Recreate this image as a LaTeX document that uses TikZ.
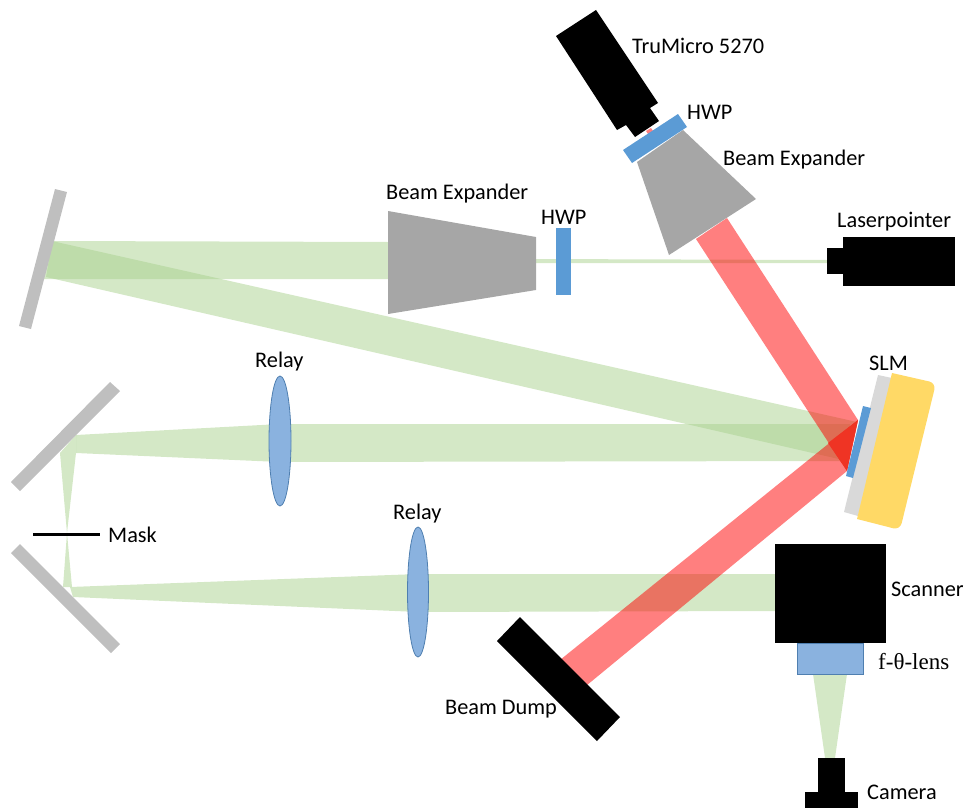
\documentclass[tikz,border=0pt]{standalone}
\usepackage{fontspec}
\setmainfont{Carlito}
\newfontfamily\lensfont{Liberation Serif}
\definecolor{beamgreen}{HTML}{A9D18E}
\definecolor{beamred}{HTML}{FF0000}
\definecolor{beamhot}{HTML}{EF3424}
\definecolor{partgray}{HTML}{A6A6A6}
\definecolor{mirrorgray}{HTML}{BFBFBF}
\definecolor{slmgray}{HTML}{D9D9D9}
\definecolor{slmyellow}{HTML}{FFD966}
\definecolor{platblue}{HTML}{5B9BD5}
\definecolor{lensblue}{HTML}{8AB2DF}
\definecolor{lensedge}{HTML}{4F7FB0}
\tikzset{
    greenbeam/.style={fill=beamgreen,fill opacity=0.5},
    redbeam/.style={fill=beamred,fill opacity=0.5},
    mirror/.style={fill=mirrorgray},
    expander/.style={fill=partgray},
    plate/.style={fill=platblue},
    device/.style={fill=black},
    relaylens/.style={fill=lensblue,draw=lensedge,line width=0.8pt},
    lbl/.style={font=\fontsize{22.3}{24}\selectfont,inner sep=0pt,anchor=west,yshift=-1.5pt}
}
\begin{document}
\begin{tikzpicture}[x=1pt,y=-1pt]
    \useasboundingbox (0,0) rectangle (964,808);
    \fill[greenbeam] (388,242)--(388,279)--(43,279)--(52,241)--cycle;
    \fill[greenbeam] (52,241)--(857,422)--(843,460)--(46,277)--cycle;
    \fill[greenbeam] (536,259)--(827,260)--(827,263)--(536,263)--cycle;
    \fill[greenbeam] (76,435)--(280,424)--(850,424)--(845,461)--(280,462)--(76,453)--cycle;
    \fill[greenbeam] (60,453)--(76,435)--(76,453)--(67,533)--(72,587)--(63,587)--(67,533)--cycle;
    \fill[greenbeam] (70,587)--(418,574)--(775,574)--(775,611)--(418,612)--(73,597)--cycle;
    \fill[greenbeam] (813,674)--(847,674)--(835,758)--(825,758)--cycle;
    \fill[redbeam] (727,218)--(858,420)--(847,471)--(696,239)--cycle;
    \fill[redbeam] (858,420)--(847,471)--(581,690)--(555,664)--cycle;
    \fill[redbeam] (646,131)--(651,128)--(655,134)--(650,137)--cycle;
    \fill[beamhot] (858,420)--(847,471)--(828,443)--cycle;
    \fill[mirror] (55,189)--(67,192)--(31,329)--(19,326)--cycle;
    \fill[mirror] (110,382)--(120,391)--(20,491)--(11,482)--cycle;
    \fill[mirror] (20,544)--(11,553)--(111,653)--(120,644)--cycle;
    \fill[expander] (388,211)--(536,237)--(536,290)--(388,314)--cycle;
    \fill[expander] (683,130)--(756,199)--(669,255)--(637,162)--cycle;
    \fill[plate] (556,228) rectangle (571,295);
    \fill[plate] (678,114)--(687,127)--(632,163)--(623,150)--cycle;
    \fill[device] (827,248) rectangle (843,274);
    \fill[device] (843,237) rectangle (955,286);
    \fill[device] (556,36)--(596,10)--(658,103)--(650,108)--(659,121)--(635,137)--(626,125)--(617,130)--cycle;
    \fill[device] (775,544) rectangle (886,643);
    \fill[device] (818,758) rectangle (845,808);
    \fill[device] (805,792) rectangle (858,808);
    \fill[device] (520,617)--(620,717)--(597,741)--(497,641)--cycle;
    \draw[black,line width=3pt] (33,534)--(100,534);
    \draw[relaylens] (280,441) ellipse (11 and 65);
    \draw[relaylens] (418,592) ellipse (10.5 and 65);
    \draw[relaylens] (797,643) rectangle (863,674);
    \fill[slmgray] (878,375)--(892,378)--(858,516)--(844,512)--cycle;
    \fill[slmyellow] (892,373)[rounded corners=7pt]--(936,383)--(900,530)[sharp corners]--(857,519)--cycle;
    \fill[plate] (863,406)--(871,408)--(853,478)--(846,476)--cycle;
    \node[lbl] (trumicro) at (632,44) {TruMicro 5270};
    \node[lbl] (hwptop) at (687,111) {HWP};
    \node[lbl] (exptop) at (723,158) {Beam Expander};
    \node[lbl] (pointer) at (837,220) {Laserpointer};
    \node[lbl] (expleft) at (386,192) {Beam Expander};
    \node[lbl] (hwpleft) at (541,216) {HWP};
    \node[lbl] (slm) at (869,362) {SLM};
    \node[lbl] (relayone) at (255,360) {Relay};
    \node[lbl] (relaytwo) at (393,512) {Relay};
    \node[lbl] (mask) at (108,533) {Mask};
    \node[lbl] (dump) at (445,708) {Beam Dump};
    \node[lbl] (scanner) at (891,588) {Scanner};
    \node[lbl,font=\fontsize{23}{25}\selectfont\lensfont] (ftheta) at (878,660) {f-θ-lens};
    \node[lbl] (camera) at (867,791) {Camera};
\end{tikzpicture}
\end{document}
